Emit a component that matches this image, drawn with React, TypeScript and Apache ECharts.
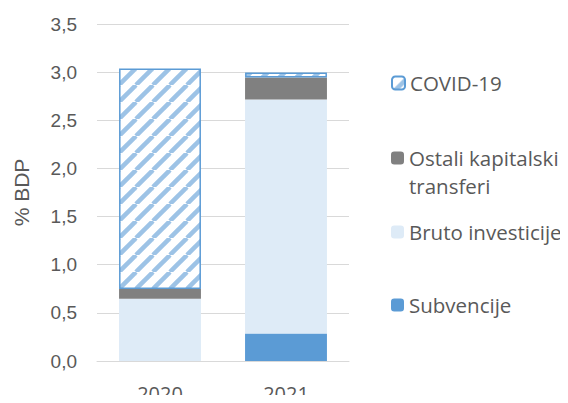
import React, { useEffect, useRef } from "react";
import * as echarts from "echarts";

const categories = ["2020", "2021"];
const subvencije = [0, 0.285];
const brutoInvesticije = [0.647, 2.43];
const ostaliTransferi = [0.1, 0.23];
const covid = [2.29, 0.05];
const seriesNames = ["Subvencije", "Bruto investicije", "Ostali kapitalski transferi", "COVID-19"];

const TEXT = "#595959";
const GRID = "#D9D9D9";

function makeHatch() {
  const T = 17;
  const c = document.createElement("canvas");
  c.width = T;
  c.height = T;
  const ctx = c.getContext("2d")!;
  ctx.fillStyle = "#ffffff";
  ctx.fillRect(0, 0, T, T);
  ctx.strokeStyle = "#9DC3E6";
  ctx.lineWidth = 4.5;
  for (let k = -1; k <= 1; k++) {
    ctx.beginPath();
    ctx.moveTo(k * T, T);
    ctx.lineTo(k * T + T, 0);
    ctx.stroke();
  }
  return { image: c, repeat: "repeat", imageWidth: T, imageHeight: T } as any;
}

export default function App() {
  const ref = useRef<HTMLDivElement>(null);
  useEffect(() => {
    if (!ref.current) return;
    const chart = echarts.init(ref.current, undefined, { renderer: "svg" });
    const hatch = makeHatch();
    const legendText = { color: TEXT, fontSize: 20.5, fontFamily: "Open Sans", lineHeight: 22 };
    const legendBase = {
      left: 391,
      orient: "vertical",
      itemWidth: 13,
      itemHeight: 13,
      padding: 0,
      itemGap: 0,
      textStyle: legendText,
      selectedMode: false,
    };
    chart.setOption({
      animation: false,
      grid: { left: 97, right: 219, top: 24, bottom: 38 },
      legend: [
        { ...legendBase, top: 72, data: [seriesNames[3]] },
        {
          ...legendBase,
          top: 147,
          data: [seriesNames[2]],
          formatter: () => "Ostali kapitalski",
        },
        { ...legendBase, top: 221, data: [seriesNames[1]] },
        { ...legendBase, top: 294, data: [seriesNames[0]] },
      ],
      graphic: [
        {
          type: "text",
          left: 409,
          top: 175,
          style: {
            text: "transferi",
            fill: TEXT,
            fontSize: 20.5,
            lineHeight: 22,
            fontFamily: "Open Sans",
          },
        },
      ],
      xAxis: {
        type: "category",
        data: categories,
        axisLine: { show: true, lineStyle: { color: GRID, width: 1 } },
        axisTick: { show: false },
        axisLabel: { color: TEXT, fontSize: 20, fontFamily: "Open Sans", margin: 22 },
      },
      yAxis: {
        type: "value",
        min: 0,
        max: 3.5,
        interval: 0.5,
        name: "% BDP",
        nameLocation: "middle",
        nameGap: 65,
        nameRotate: 90,
        nameTextStyle: { color: TEXT, fontSize: 21, fontFamily: "Liberation Sans" },
        axisLine: { show: false },
        axisTick: { show: false },
        axisLabel: {
          color: TEXT,
          fontSize: 19,
          fontFamily: "Liberation Sans",
          margin: 20,
          formatter: (v: number) => v.toFixed(1).replace(".", ","),
        },
        splitLine: { lineStyle: { color: GRID, width: 1 } },
      },
      series: [
        {
          name: seriesNames[0],
          type: "bar",
          stack: "t",
          barWidth: "65%",
          data: subvencije,
          itemStyle: { color: "#5B9BD5" },
        },
        {
          name: seriesNames[1],
          type: "bar",
          stack: "t",
          data: brutoInvesticije,
          itemStyle: { color: "#DEEBF7" },
        },
        {
          name: seriesNames[2],
          type: "bar",
          stack: "t",
          data: ostaliTransferi,
          itemStyle: { color: "#808080" },
        },
        {
          name: seriesNames[3],
          type: "bar",
          stack: "t",
          data: covid,
          itemStyle: { color: hatch, borderColor: "#5B9BD5", borderWidth: 1.5 },
        },
      ],
    });
    return () => chart.dispose();
  }, []);
  return <div ref={ref} style={{ width: 568, height: 403, margin: -8 }} />;
}
